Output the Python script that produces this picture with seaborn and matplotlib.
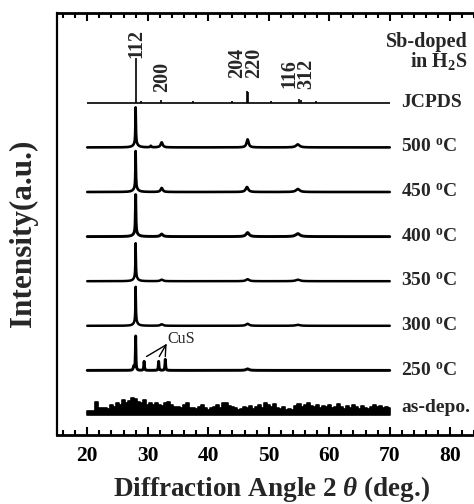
import numpy as np
import pandas as pd
import matplotlib
matplotlib.use("Agg")
import matplotlib.pyplot as plt
from matplotlib.ticker import MultipleLocator
import seaborn as sns

# ---------------- data ----------------
sample_names = ["JCPDS", "500 $^{\\mathbf{o}}$C", "450 $^{\\mathbf{o}}$C", "400 $^{\\mathbf{o}}$C",
                "350 $^{\\mathbf{o}}$C", "300 $^{\\mathbf{o}}$C", "250 $^{\\mathbf{o}}$C", "as-depo."]

# JCPDS stick pattern (2theta, relative intensity)
jcpds_pos = [28.0, 28.9, 32.2, 37.4, 44.0, 46.45, 46.65, 50.4, 55.0, 55.3, 57.8]
jcpds_int = [45, 2, 3, 2, 1.5, 12, 11, 1.5, 4, 2.5, 2]
hkl_labels = ["112", "200", "204", "220", "116", "312"]

# annealed samples: peak position, height, FWHM
pos_500 = [28.0, 28.0, 30.5, 32.3, 46.5, 54.8]
int_500 = [36, 4, 1.5, 5, 8, 3]
fwhm_500 = [0.1, 0.8, 0.2, 0.4, 0.4, 0.7]

pos_450 = [28.0, 28.0, 32.3, 46.4, 54.8]
int_450 = [37, 4, 4, 5, 3]
fwhm_450 = [0.1, 0.8, 0.4, 0.5, 0.7]

pos_400 = [28.0, 28.0, 32.3, 46.5, 54.8]
int_400 = [38, 4, 2.5, 4, 3]
fwhm_400 = [0.1, 0.8, 0.5, 0.6, 0.8]

pos_350 = [28.0, 28.0, 32.3, 46.5, 54.8]
int_350 = [34, 4, 1.5, 2, 1.5]
fwhm_350 = [0.1, 0.7, 0.5, 0.6, 0.8]

pos_300 = [28.0, 28.0, 32.3, 46.5, 54.8]
int_300 = [35, 4, 1.5, 2, 1]
fwhm_300 = [0.1, 0.7, 0.5, 0.6, 0.8]

pos_250 = [27.7, 28.0, 29.4, 31.8, 32.9, 46.5]
int_250 = [4, 34, 9, 9, 11, 1.5]
fwhm_250 = [0.2, 0.1, 0.12, 0.12, 0.12, 0.6]

# as-deposited (amorphous, noisy): envelope height every 0.5 deg from 20 to 70
asdepo_2theta = [20.0 + 0.5 * k for k in range(101)]
asdepo_int = [4, 4, 4, 13, 7, 7, 7, 6, 10, 8, 12, 10, 15, 12, 14, 17, 16, 13, 12, 15,
              10, 12, 10, 12, 10, 9, 12, 13, 10, 8, 8, 7, 10, 12, 7, 7, 6, 8, 10, 7,
              5, 7, 8, 10, 7, 12, 12, 9, 8, 7, 5,
              6, 8, 7, 9, 6, 8, 10, 7, 12, 10, 8, 11, 7, 6, 8, 5, 6, 5, 9, 11,
              8, 10, 12, 9, 8, 10, 7, 9, 8, 10, 7, 8, 11, 8, 6, 9, 7, 10, 8, 6,
              9, 7, 6, 8, 10, 8, 9, 7, 8, 7]

cus_label = "CuS"
cus_targets = [29.8, 31.9, 32.9]

# ---------------- style ----------------
sns.set_theme(style="ticks")
plt.rcParams["font.family"] = ["Liberation Serif", "DejaVu Serif"]
plt.rcParams["font.weight"] = "bold"
plt.rcParams["mathtext.fontset"] = "custom"
plt.rcParams["mathtext.rm"] = "Liberation Serif:bold"
plt.rcParams["mathtext.bf"] = "Liberation Serif:bold"
plt.rcParams["mathtext.it"] = "Liberation Serif:italic:bold"

fig = plt.figure(figsize=(4.74, 5.04), dpi=100)
ax = fig.add_axes([57 / 474, 1 - 435 / 504, 423.5 / 474, 422 / 504])

spacing = 44.6
offsets = [20 + spacing * (7 - i) for i in range(8)]

grid = np.linspace(20, 70, 2501)

def profile(pos, inten, fwhm):
    y = np.zeros_like(grid)
    for p, h, f in zip(pos, inten, fwhm):
        y += h / (1 + ((grid - p) / (f / 2)) ** 2)
    return y

# JCPDS
ax.hlines(offsets[0], 20, 70, color="black", lw=1.2)
ax.vlines(jcpds_pos, offsets[0], [offsets[0] + v for v in jcpds_int], color="black", lw=1.2)

peak_sets = [(pos_500, int_500, fwhm_500), (pos_450, int_450, fwhm_450),
             (pos_400, int_400, fwhm_400), (pos_350, int_350, fwhm_350),
             (pos_300, int_300, fwhm_300), (pos_250, int_250, fwhm_250)]
widths = [1.9, 1.9, 2.1, 1.8, 1.8, 2.1]
for i, ((p, h, f), lw) in enumerate(zip(peak_sets, widths)):
    df = pd.DataFrame({"two_theta": grid, "intensity": profile(p, h, f) + offsets[i + 1]})
    sns.lineplot(data=df, x="two_theta", y="intensity", color="black", lw=lw, ax=ax,
                 estimator=None, sort=False)

# as-deposited
base = offsets[7]
ax.fill_between(asdepo_2theta, base, [base + v for v in asdepo_int], step="mid",
                color="black", edgecolor="black", lw=1.2)

# labels on the right
for i, name in enumerate(sample_names):
    dy = 8 if i == 7 else 0
    ax.text(71.9, offsets[i] + dy, name, ha="left", va="center", fontsize=14,
            fontweight="bold", clip_on=False)

ax.text(82.8, 393, "Sb-doped", ha="right", va="center", fontsize=14.5, fontweight="bold")
ax.text(82.8, 374, "in H$_\\mathbf{2}$S", ha="right", va="center", fontsize=14.5, fontweight="bold")

# hkl labels (rotated); neighbouring reflections share one two-line label
hkl_groups = [(hkl_labels[0:1], 28.05, 377), (hkl_labels[1:2], 32.4, 343),
              (hkl_labels[2:4], 46.2, 357), (hkl_labels[4:6], 54.8, 346)]
for labs, xx, yy in hkl_groups:
    ax.text(xx, yy, "\n".join(labs), rotation=90, ha="center", va="bottom",
            fontsize=14.5, fontweight="bold", linespacing=0.82)

# CuS annotation
ax.text(33.2, 96, cus_label, ha="left", va="center", fontsize=11.5, fontweight="normal")
for tx in cus_targets:
    ax.plot([33.0, tx], [90, 78.5], color="black", lw=1.0)

# axes
ax.set_xlim(15, 85)
ax.set_ylim(0, 422)
ax.set_yticks([])
ax.xaxis.set_major_locator(MultipleLocator(10))
ax.xaxis.set_minor_locator(MultipleLocator(2))
ax.set_xticks([20, 30, 40, 50, 60, 70, 80])
ax.tick_params(axis="x", which="both", direction="in", top=True, bottom=True, width=1.5,
               labelsize=15.5, pad=8, colors="black")
ax.tick_params(axis="x", which="major", length=6)
ax.tick_params(axis="x", which="minor", length=3.5)
for lab in ax.get_xticklabels():
    lab.set_fontweight("bold")
for s in ["top", "bottom"]:
    ax.spines[s].set_linewidth(2.0)
ax.spines["left"].set_linewidth(1.6)
ax.spines["right"].set_linewidth(1.6)
for s in ax.spines.values():
    s.set_color("black")
ax.set_xlabel("")
ax.set_ylabel("")

fig.text(271.5 / 474, 1 - 489 / 504, "Diffraction Angle 2 $\\theta$ (deg.)", ha="center",
         va="center", fontsize=19.5, fontweight="bold")
fig.text(23 / 474, 1 - 233 / 504, "Intensity(a.u.)", rotation=90, ha="center",
         va="center", fontsize=22.5, fontweight="bold")

fig.savefig("out.png", dpi=100)
